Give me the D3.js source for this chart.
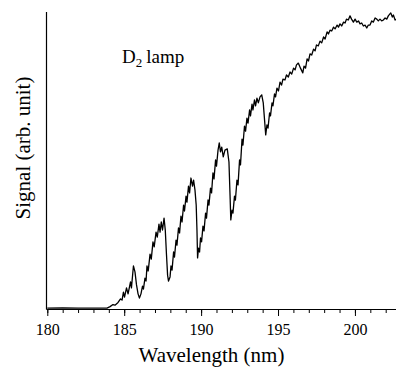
<!DOCTYPE html>
<html>
<head>
<meta charset="utf-8">
<script src="https://cdn.jsdelivr.net/npm/d3@7"></script>
<style>
  html, body { margin: 0; padding: 0; background: #fff; }
  svg { display: block; }
  svg text { font-family: "Liberation Serif", "DejaVu Serif", "Times New Roman", Times, serif !important; }
</style>
</head>
<body>
<svg id="svg"></svg>
<script>
// wavelength (nm) and signal (arb. unit, 0..100)
const wavelength = [
  180.0, 181.0, 182.0, 183.0, 183.88, 184.08, 184.27, 184.40, 184.60, 184.76, 184.86,
  184.95, 185.02, 185.15, 185.25, 185.41, 185.47, 185.60, 185.70, 185.80, 185.90,
  185.99, 186.09, 186.19, 186.25, 186.35, 186.42, 186.48, 186.56, 186.68, 186.76,
  186.87, 186.95, 187.07, 187.15, 187.26, 187.33, 187.41, 187.49, 187.59, 187.67,
  187.75, 187.82, 187.88, 187.98, 188.04, 188.11, 188.21, 188.27, 188.37, 188.43,
  188.53, 188.60, 188.69, 188.76, 188.86, 188.92, 189.02, 189.08, 189.18, 189.25,
  189.34, 189.44, 189.51, 189.60, 189.68, 189.73, 189.77, 189.83, 189.90, 189.96,
  190.03, 190.12, 190.19, 190.29, 190.35, 190.45, 190.51, 190.61, 190.68, 190.77,
  190.84, 190.94, 191.00, 191.10, 191.18, 191.26, 191.34, 191.44, 191.55, 191.70,
  191.81, 191.88, 191.93, 192.01, 192.07, 192.17, 192.23, 192.33, 192.40, 192.50,
  192.56, 192.66, 192.72, 192.82, 192.89, 192.98, 193.05, 193.15, 193.21, 193.31,
  193.37, 193.47, 193.54, 193.63, 193.72, 193.83, 193.94, 194.04, 194.11, 194.20,
  194.28, 194.35, 194.45, 194.51, 194.61, 194.67, 194.77, 194.84, 194.93, 195.03,
  195.13, 195.23, 195.32, 195.45, 195.55, 195.67, 195.78, 195.89, 196.01, 196.11,
  196.20, 196.32, 196.46, 196.61, 196.69, 196.79, 196.89, 196.98, 197.08, 197.19,
  197.31, 197.41, 197.50, 197.62, 197.73, 197.84, 197.96, 198.06, 198.19, 198.28,
  198.38, 198.49, 198.61, 198.71, 198.84, 198.93, 199.03, 199.14, 199.26, 199.36,
  199.45, 199.57, 199.68, 199.78, 199.90, 200.01, 200.12, 200.23, 200.33, 200.44,
  200.55, 200.66, 200.77, 200.87, 200.98, 201.09, 201.20, 201.31, 201.42, 201.52,
  201.63, 201.74, 201.85, 201.96, 202.07, 202.17, 202.33, 202.43, 202.50, 202.61,
  202.67
];
const signal = [
  0.3, 0.4, 0.3, 0.3, 0.3, 0.8, 1.5, 1.3, 2.2, 3.4, 3.0,
  5.7, 4.0, 7.1, 5.1, 9.1, 7.1, 14.5, 12.5, 8.1, 5.1,
  3.7, 5.1, 7.7, 6.7, 10.4, 9.4, 14.5, 12.8, 18.5, 16.8,
  22.6, 20.9, 25.9, 24.2, 28.6, 25.9, 29.3, 26.6, 30.6, 26.6,
  18.2, 11.4, 9.4, 10.8, 14.5, 13.1, 19.2, 17.5, 23.2, 21.5,
  27.3, 25.6, 31.3, 29.3, 35.0, 33.0, 38.0, 36.0, 41.4, 39.1,
  44.1, 41.4, 43.4, 40.1, 35.0, 26.6, 17.2, 20.5, 19.2, 23.9,
  22.6, 27.9, 26.3, 32.3, 30.6, 36.7, 35.0, 40.7, 39.1, 45.8,
  43.8, 50.2, 48.1, 53.5, 55.9, 52.9, 54.5, 51.2, 53.5, 53.9,
  49.5, 38.4, 30.0, 33.3, 32.3, 38.0, 36.7, 43.4, 41.8, 50.2,
  48.5, 57.2, 55.2, 61.6, 59.9, 64.3, 62.6, 67.0, 65.0, 69.0,
  67.0, 70.4, 68.4, 71.0, 69.4, 71.4, 72.1, 69.4, 64.6, 58.6,
  62.0, 60.9, 66.0, 65.0, 69.4, 68.4, 72.4, 71.4, 74.4, 73.4,
  76.4, 75.4, 77.4, 77.1, 78.8, 78.1, 79.8, 79.1, 81.1, 80.5,
  82.2, 82.8, 81.1, 79.5, 81.8, 81.1, 84.2, 83.5, 85.9, 85.5,
  87.5, 86.9, 88.9, 88.6, 90.2, 89.6, 91.6, 90.9, 93.3, 92.6,
  93.9, 93.6, 94.9, 94.3, 95.6, 94.9, 96.0, 95.3, 96.6, 96.3,
  97.6, 97.3, 98.7, 97.6, 96.6, 97.6, 96.6, 97.0, 96.0, 96.3,
  95.3, 95.6, 94.6, 95.6, 95.6, 97.0, 96.6, 98.0, 97.6, 97.0,
  97.6, 97.0, 97.3, 98.0, 97.6, 98.7, 99.7, 98.3, 99.0, 97.3,
  97.6
];
const xMajorTicks = [180, 185, 190, 195, 200];
const xMinorTicks = d3.range(180, 203, 1);

const comWidth = 396;
const comHeight = 367;
const serif = '"Liberation Serif", "DejaVu Serif", "Times New Roman", Times, serif';

const svg = d3.select('#svg').attr('width', comWidth).attr('height', comHeight);

const x = d3.scaleLinear().domain([180, 202.67]).range([47.3, 396]);
const y = d3.scaleLinear().domain([0, 100]).range([309, 12]);

// minor ticks (every nm) then major ticks with labels
svg.append('g')
  .attr('class', 'axis axis--minor')
  .attr('transform', 'translate(0,309)')
  .call(d3.axisBottom(x).tickValues(xMinorTicks).tickSize(4).tickFormat(''))
  .call(g => g.select('.domain').remove());

svg.append('g')
  .attr('class', 'axis axis--x')
  .attr('transform', 'translate(0,309)')
  .call(d3.axisBottom(x).tickValues(xMajorTicks).tickSize(7).tickPadding(8).tickFormat(d3.format('d')))
  .call(g => g.attr('font-family', serif))
  .call(g => g.select('.domain').remove())
  .call(g => g.selectAll('text').attr('font-size', 16).attr('fill', '#000'));

svg.selectAll('.axis line').attr('stroke', '#000').attr('stroke-width', 1);

// frame: left and bottom axis lines
svg.append('line')
  .attr('x1', 46.5).attr('x2', 396)
  .attr('y1', 309.5).attr('y2', 309.5)
  .attr('stroke', '#000').attr('stroke-width', 1.2);
svg.append('line')
  .attr('x1', 46.5).attr('x2', 46.5)
  .attr('y1', 12).attr('y2', 309.5)
  .attr('stroke', '#000').attr('stroke-width', 1.2);

// spectrum
const line = d3.line()
  .x((d, i) => x(wavelength[i]))
  .y(d => y(d));

svg.append('path')
  .datum(signal)
  .attr('fill', 'none')
  .attr('stroke', '#000')
  .attr('stroke-width', 1.3)
  .attr('stroke-linejoin', 'round')
  .attr('d', line);

// axis titles
svg.append('text')
  .attr('x', 211.5)
  .attr('y', 362)
  .attr('text-anchor', 'middle')
  .attr('font-family', serif)
  .attr('font-size', 21)
  .text('Wavelength (nm)');

svg.append('text')
  .attr('transform', 'translate(29.5,148) rotate(-90)')
  .attr('text-anchor', 'middle')
  .attr('font-family', serif)
  .attr('font-size', 21)
  .text('Signal (arb. unit)');

// D2 lamp label
const lamp = svg.append('text')
  .attr('x', 122)
  .attr('y', 63)
  .attr('font-family', serif)
  .attr('font-size', 19);
lamp.append('tspan').text('D');
lamp.append('tspan').attr('font-size', 13).attr('dy', 4).text('2');
lamp.append('tspan').attr('dy', -4).attr('dx', 4).text('lamp');
</script>
</body>
</html>
